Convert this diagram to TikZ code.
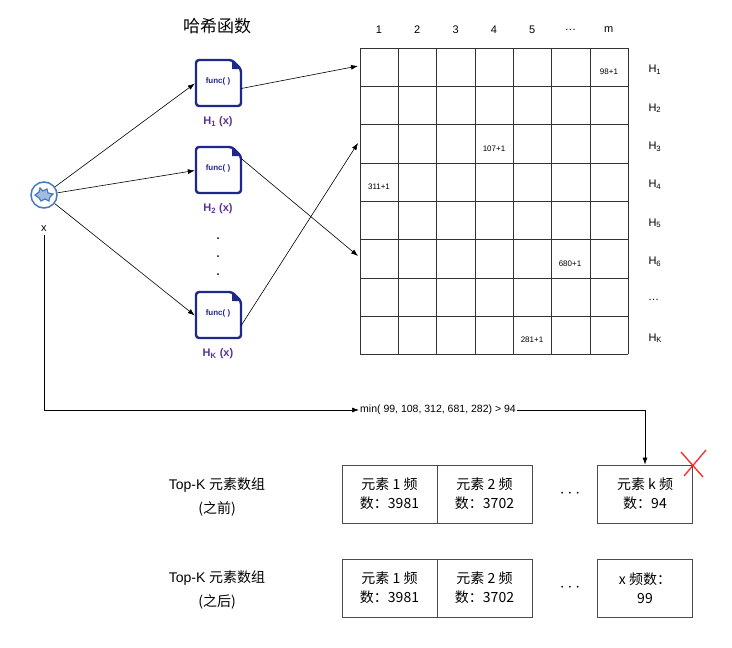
\documentclass[tikz,border=0pt]{standalone}
\usepackage{fontspec}
\setmainfont{Liberation Sans}
\newfontfamily\cjk{Noto Sans CJK SC}
\usetikzlibrary{arrows.meta}
\definecolor{docblue}{RGB}{30,40,140}
\definecolor{iconblue}{RGB}{70,120,190}
\definecolor{lblpurple}{RGB}{90,50,150}
\newcommand{\mydots}{.\kern0.5pt.\kern0.5pt.}
\begin{document}
\begin{tikzpicture}[x=1pt,y=-1pt,
  arr/.style={-{Latex[length=7pt,width=5pt]},black,line width=0.6pt},
  cellnum/.style={font=\fontsize{8}{9}\selectfont},
  hdr/.style={font=\fontsize{11}{13}\selectfont},
  topbox/.style={draw=black!70,line width=0.8pt,minimum width=95pt,minimum height=58pt,inner sep=0pt,align=center,font=\cjk\fontsize{14}{19}\selectfont}]
\useasboundingbox (0,0) rectangle (732,648);
\node[font=\cjk\fontsize{17}{19}\selectfont] (title) at (217,26) {哈希函数};
% grid
\foreach \i in {0,...,7} \draw[black!80,line width=0.6pt] ({360+38.3*\i},48) -- ({360+38.3*\i},354.4);
\foreach \j in {0,...,8} \draw[black!80,line width=0.6pt] (360,{48+38.3*\j}) -- (628.1,{48+38.3*\j});
\foreach \t/\i in {1/0,2/1,3/2,4/3,5/4,\mydots/5,m/6}
  \node[hdr] (c\i) at ({379+38.3*\i},30) {\t};
\foreach \t/\i in {H\textsubscript{1}/0,H\textsubscript{2}/1,H\textsubscript{3}/2,H\textsubscript{4}/3,H\textsubscript{5}/4,H\textsubscript{6}/5,\mydots/6,H\textsubscript{K}/7}
  \node[hdr,anchor=west] (r\i) at (645,{70+38.3*\i}) {\t};
\node[cellnum] (v1) at (609,72) {98+1};
\node[cellnum] (v2) at (494,149) {107+1};
\node[cellnum] (v3) at (379,187) {311+1};
\node[cellnum] (v4) at (570,264) {680+1};
\node[cellnum] (v5) at (532,340) {281+1};
\coordinate (g1) at (358,66);
\coordinate (g3) at (358,143);
\coordinate (g6) at (358,256);
% x icon
\node[circle,draw=iconblue,line width=1.5pt,minimum size=26pt,inner sep=0pt] (x) at (44,195) {};
\draw[iconblue,line width=1.2pt,fill=iconblue!50] (44,195) +(-9,0) -- +(-5,-3) -- +(-4,-7) -- +(-1,-4) -- +(3,-6) -- +(4,-2) -- +(9,-1) -- +(6,2) -- +(5,6) -- +(1,4) -- +(-3,6) -- +(-5,3) -- cycle;
\node[font=\fontsize{11}{13}\selectfont] (xl) at (44,229) {x};
% docs
\foreach \n/\y/\lab in {d1/60/H\textsubscript{1} (x),d2/147/H\textsubscript{2} (x),dk/292/H\textsubscript{K} (x)}{
  \node[minimum width=46pt,minimum height=47pt,inner sep=0pt] (\n) at (218,{\y+23.5}) {};
  \draw[docblue,line width=2.4pt,rounded corners=3pt] (196,\y) -- (232,\y) -- (241,{\y+9}) -- (241,{\y+46}) -- (196,{\y+46}) -- cycle;
  \fill[docblue] (232,\y) -- (241,{\y+9}) -- (232,{\y+9}) -- cycle;
  \node[font=\fontsize{8}{9}\selectfont\bfseries,text=docblue] at (218,{\y+21}) {func( )};
  \node[font=\fontsize{11}{13}\selectfont\bfseries,text=lblpurple] at (218,{\y+62}) {\lab};
}
\foreach \yy in {238,256,274} \fill (218,\yy) circle (1pt);
\draw[arr] (x) -- (d1.west);
\draw[arr] (x) -- (d2.west);
\draw[arr] (x) -- (dk.west);
\draw[arr] ([yshift=-5pt]d1.east) -- (g1);
\draw[arr] ([yshift=12pt]d2.east) -- (g6);
\draw[arr] ([yshift=-10pt]dk.east) -- (g3);
% min line
\node[anchor=west,font=\fontsize{10.5}{12}\selectfont,inner sep=1pt] (min) at (359,410) {min( 99, 108, 312, 681, 282) > 94};
\draw[arr] (xl.south) -- (44,410) -- (min.west);
% top-k
\node[font=\fontsize{14}{16}\selectfont] (t1) at (217,485) {Top-K {\cjk 元素数组}};
\node[font=\cjk\fontsize{14}{16}\selectfont] (t1b) at (217,509) {(之前)};
\node[font=\fontsize{14}{16}\selectfont] (t2) at (217,578) {Top-K {\cjk 元素数组}};
\node[font=\cjk\fontsize{14}{16}\selectfont] (t2b) at (217,602) {(之后)};
\node[topbox] (a1) at (389.5,494) {元素 1 频\\数：3981};
\node[topbox] (a2) at (484.5,494) {元素 2 频\\数：3702};
\node[topbox] (ak) at (645,494) {元素 k 频\\数：94};
\node[font=\fontsize{16}{16}\selectfont] (da) at (570,494) {$\cdots$};
\node[topbox] (b1) at (389.5,588) {元素 1 频\\数：3981};
\node[topbox] (b2) at (484.5,588) {元素 2 频\\数：3702};
\node[topbox] (bk) at (645,588) {x 频数：\\99};
\node[font=\fontsize{16}{16}\selectfont] (db) at (570,588) {$\cdots$};
\draw[arr] (min.east) -- (645,410) -- (ak.north);
\draw[red!85,line width=1.3pt] (681,452) -- (703,477) (706,450) -- (684,476);
\end{tikzpicture}
\end{document}
